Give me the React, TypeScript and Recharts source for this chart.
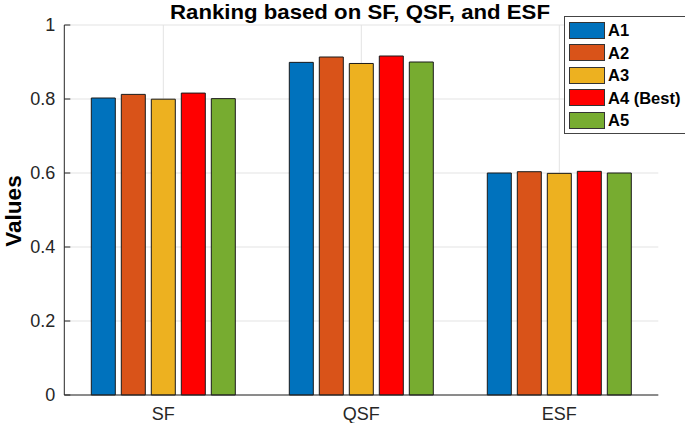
import React from 'react';
import { BarChart, Bar, XAxis, YAxis, CartesianGrid, Legend } from 'recharts';

// values
const categories = ['SF', 'QSF', 'ESF'];
const seriesNames = ['A1', 'A2', 'A3', 'A4 (Best)', 'A5'];
const seriesColors = ['#0072BD', '#D95319', '#EDB120', '#FF0000', '#77AC30'];
const a1 = [0.8027, 0.899, 0.6];
const a2 = [0.8125, 0.9135, 0.6035];
const a3 = [0.7995, 0.896, 0.599];
const a4 = [0.816, 0.9162, 0.6045];
const a5 = [0.801, 0.9, 0.6];
const yTicks = [0, 0.2, 0.4, 0.6, 0.8, 1];

const seriesValues = [a1, a2, a3, a4, a5];
const keys = ['A1', 'A2', 'A3', 'A4', 'A5'];

const chartData = categories.map((name, i) => {
  const row: Record<string, number | string> = { name };
  keys.forEach((k, s) => {
    row[k] = seriesValues[s][i];
  });
  return row;
});

const FONT = '"Liberation Sans", Arial, Helvetica, sans-serif';
const AXIS = '#262626';

// plot box
const W = 685;
const H = 423;
const M = { top: 25, right: 26.7, bottom: 0, left: 0 };
const Y_AXIS_W = 64.3;
const X_AXIS_H = 28;

// matlab style grid: only at category centres, nothing on the plot edges
const plotLeft = M.left + Y_AXIS_W;
const plotWidth = W - plotLeft - M.right;
const gridX = categories.map((_, i) => plotLeft + (plotWidth * (i + 0.5)) / categories.length);

const YTick = (props: any) => {
  const { x, y, payload } = props;
  return (
    <g>
      <line x1={x + 9} x2={x + 15} y1={y} y2={y} stroke={AXIS} strokeWidth={1} />
      <text x={x} y={y} dy="0.355em" textAnchor="end" fontSize={18} fill={AXIS} fontFamily={FONT}>
        {String(payload.value)}
      </text>
    </g>
  );
};

const renderLegend = () => (
  <div
    style={{
      boxSizing: 'border-box',
      width: 130,
      height: 118.3,
      border: '1px solid #444',
      background: '#fff',
      padding: '2.1px 0 0 4px',
      fontFamily: FONT,
    }}
  >
    {seriesNames.map((n, i) => (
      <div key={n} style={{ height: 22.5, display: 'flex', alignItems: 'center' }}>
        <div
          style={{
            boxSizing: 'border-box',
            width: 36,
            height: 17.3,
            border: '1px solid #333',
            background: seriesColors[i],
          }}
        />
        <span style={{ marginLeft: 3, fontSize: 16.5, fontWeight: 'bold', color: '#000', lineHeight: 1 }}>{n}</span>
      </div>
    ))}
  </div>
);

export default function App() {
  return (
    <div
      style={{
        position: 'absolute',
        left: 0,
        top: 0,
        width: W,
        height: H,
        overflow: 'hidden',
        background: '#fff',
        fontFamily: FONT,
      }}
    >
      <BarChart width={W} height={H} data={chartData} margin={M} barCategoryGap={27} barGap={6}>
        <CartesianGrid stroke="#e3e3e3" strokeWidth={1} verticalPoints={gridX} />
        <XAxis
          dataKey="name"
          height={X_AXIS_H}
          tickLine={false}
          tickSize={0}
          tickMargin={12}
          axisLine={{ stroke: AXIS, strokeWidth: 1 }}
          tick={{ fontSize: 18, fill: AXIS, fontFamily: FONT }}
        />
        <YAxis
          width={Y_AXIS_W}
          domain={[0, 1]}
          ticks={yTicks}
          tickLine={false}
          tickSize={0}
          tickMargin={9}
          axisLine={{ stroke: AXIS, strokeWidth: 1 }}
          tick={<YTick />}
        />
        <Legend
          layout="vertical"
          align="center"
          verticalAlign="middle"
          content={renderLegend}
          wrapperStyle={{ position: 'absolute', left: 564, top: 16, width: 130, height: 118.3, overflow: 'visible' }}
        />
        {keys.map((k, i) => (
          <Bar
            key={k}
            dataKey={k}
            name={seriesNames[i]}
            fill={seriesColors[i]}
            stroke="#1a1a1a"
            strokeWidth={1}
            isAnimationActive={false}
          />
        ))}
      </BarChart>
      <svg width={W} height={H} style={{ position: 'absolute', left: 0, top: 0, pointerEvents: 'none' }}>
        <text
          x={360}
          y={18.5}
          textAnchor="middle"
          fontSize={20.5}
          fontWeight="bold"
          fill="#000"
          fontFamily={FONT}
          textLength={380}
          lengthAdjust="spacingAndGlyphs"
        >
          Ranking based on SF, QSF, and ESF
        </text>
        <text
          x={21}
          y={211}
          transform="rotate(-90 21 211)"
          textAnchor="middle"
          fontSize={22.5}
          fontWeight="bold"
          fill="#000"
          fontFamily={FONT}
        >
          Values
        </text>
      </svg>
    </div>
  );
}
